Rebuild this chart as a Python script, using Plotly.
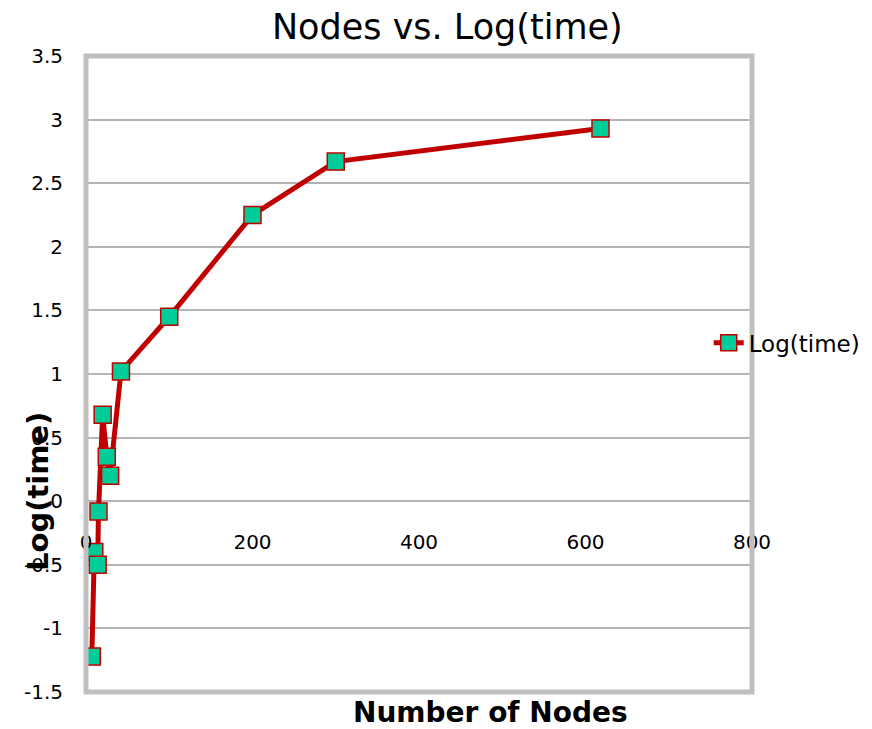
import plotly.graph_objects as go

# Measured run times (log scale) for increasing graph sizes
nodes = [7, 10, 14, 15, 20, 25, 29, 42, 100, 200, 300, 618]
log_time = [-1.22, -0.40, -0.50, -0.08, 0.68, 0.35, 0.20, 1.02, 1.45, 2.25, 2.67, 2.93]

y_ticks = [-1.5, -1, -0.5, 0, 0.5, 1, 1.5, 2, 2.5, 3, 3.5]
y_tick_text = ["-1.5", "-1", "-0.5", "0", "0.5", "1", "1.5", "2", "2.5", "3", "3.5"]
x_ticks = [0, 200, 400, 600, 800]

LINE_RED = "#C00000"
MARKER_GREEN = "#00CC99"
GRID = "#B4B4B4"
BORDER = "#BFBFBF"
BODY_FONT = "DejaVu Sans"

fig = go.Figure()
fig.add_trace(go.Scatter(
    x=nodes, y=log_time, mode="lines+markers", name="Log(time)",
    line=dict(color=LINE_RED, width=5),
    marker=dict(symbol="square", size=17, color=MARKER_GREEN,
                line=dict(color=LINE_RED, width=1.5)),
))

fig.update_layout(
    width=872, height=729,
    margin=dict(l=86, r=120, t=56, b=37, autoexpand=False),
    paper_bgcolor="white", plot_bgcolor="white",
    title=dict(text="Nodes vs. Log(time)", x=0.513, xanchor="center",
               y=0.963, yanchor="middle",
               font=dict(family=BODY_FONT, size=35, color="black")),
    showlegend=True,
    legend=dict(x=0.935, xanchor="left", y=0.549, yanchor="middle",
                bgcolor="rgba(0,0,0,0)", borderwidth=0,
                font=dict(family=BODY_FONT, size=23, color="black")),
    xaxis=dict(range=[0, 800], tickvals=x_ticks, showgrid=False, zeroline=False,
               showline=False, ticks="", anchor="free", position=0.3,
               ticklabelstandoff=27,
               tickfont=dict(family=BODY_FONT, size=20, color="black")),
    yaxis=dict(range=[-1.5, 3.5], tickvals=y_ticks, ticktext=y_tick_text,
               showgrid=True, gridcolor=GRID, gridwidth=2, zeroline=False,
               showline=False, ticks="", ticklabelstandoff=22,
               tickfont=dict(family=BODY_FONT, size=20, color="black")),
    shapes=[dict(type="rect", xref="paper", yref="paper", x0=0, x1=1, y0=0, y1=1,
                 line=dict(color=BORDER, width=5), layer="above")],
    annotations=[
        dict(text="<b>Number of Nodes</b>", xref="paper", yref="paper",
             x=(490 - 86) / 666, y=-0.032, xanchor="center", yanchor="middle",
             showarrow=False, font=dict(family=BODY_FONT, size=28, color="black")),
        dict(text="<b>Log(time)</b>", xref="paper", yref="paper",
             x=(38 - 86) / 666, y=(692 - 492) / 636, xanchor="center", yanchor="middle",
             textangle=-90, showarrow=False,
             font=dict(family=BODY_FONT, size=29, color="black")),
    ],
)

fig.write_html("out.html")
